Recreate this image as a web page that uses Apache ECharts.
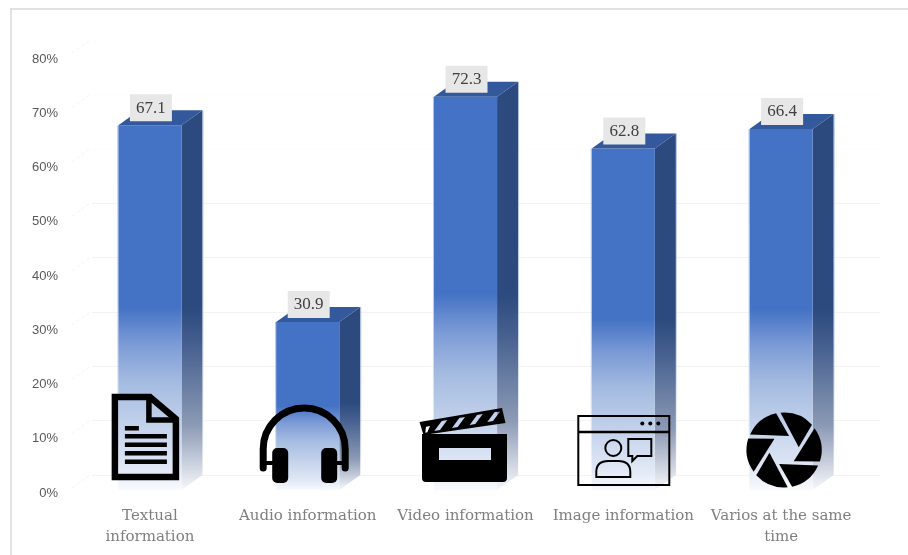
<!DOCTYPE html>
<html>
<head>
<meta charset="utf-8">
<style>html,body{margin:0;padding:0;background:#fff}#chart{width:908px;height:555px}</style>
<script src="https://cdn.jsdelivr.net/npm/echarts@6/dist/echarts.min.js"></script>
</head>
<body>
<div id="chart"></div>
<script>
const categories = ['Textual\ninformation', 'Audio information', 'Video information', 'Image information', 'Varios at the same\ntime'];
const shareValues = [67.1, 30.9, 72.3, 62.8, 66.4];
const yTicks = [0, 10, 20, 30, 40, 50, 60, 70, 80];

// Oblique projection of the columns and the back wall
const DEPTH_X = 21;
const DEPTH_Y = 15;

const grad = (stops) => new echarts.graphic.LinearGradient(0, 0, 0, 1, stops.map(([offset, color]) => ({ offset, color })));

const frontFill = () => grad([[0, '#4472c4'], [0.5, '#4472c4'], [0.6, '#7c9bd6'], [0.7, '#a3bae0'], [0.945, '#e2e9f6'], [1, '#f8fafd']]);
const sideFill = () => grad([[0, '#2c4a7e'], [0.52, '#2c4a7e'], [0.62, '#46608f'], [0.83, '#8c9ab5'], [1, '#f6f7fa']]);
const edgeFill = () => grad([[0, 'rgba(150,175,225,0.8)'], [0.6, 'rgba(150,175,225,0.55)'], [1, 'rgba(150,175,225,0)']]);

function renderColumn(params, api) {
  const top = api.coord([api.value(0), api.value(1)]);
  const base = api.coord([api.value(0), 0]);
  const w = api.size([1, 0])[0] * 0.4;
  const x = top[0] - w / 2;
  return {
    type: 'group',
    children: [
      { type: 'polygon', shape: { points: [[x + w, top[1]], [x + w + DEPTH_X, top[1] - DEPTH_Y], [x + w + DEPTH_X, base[1] - DEPTH_Y], [x + w, base[1]]] }, style: { fill: sideFill() } },
      { type: 'rect', shape: { x, y: top[1], width: w, height: base[1] - top[1] }, style: { fill: frontFill() } },
      { type: 'polygon', shape: { points: [[x, top[1]], [x + DEPTH_X, top[1] - DEPTH_Y], [x + w + DEPTH_X, top[1] - DEPTH_Y], [x + w, top[1]]] }, style: { fill: '#34589c' } },
      { type: 'rect', shape: { x: x - 1, y: top[1], width: 1, height: base[1] - top[1] }, style: { fill: edgeFill() } },
      { type: 'rect', shape: { x: x + w + DEPTH_X, y: top[1] - DEPTH_Y, width: 1, height: base[1] - top[1] }, style: { fill: edgeFill() } }
    ]
  };
}

function renderValueTag(params, api) {
  const top = api.coord([api.value(0), api.value(1)]);
  const cx = top[0] + 1;
  return {
    type: 'group',
    children: [
      { type: 'rect', shape: { x: cx - 21, y: top[1] - 31, width: 42, height: 27 }, style: { fill: '#e7e7e7' } },
      { type: 'text', x: cx, y: top[1] - 17, style: { text: String(api.value(1)), fill: '#404040', font: '17px "Liberation Serif"', align: 'center', verticalAlign: 'middle' } }
    ]
  };
}

// Helpers for icon parts; bounding boxes keep path data at its own scale
const ink = '#000';
const solid = (d, x, y, width, height) => ({ type: 'path', shape: { pathData: d, x, y, width, height, layout: 'cover' }, style: { fill: ink } });
const traced = (d, x, y, width, height, lineWidth) => ({ type: 'path', shape: { pathData: d, x, y, width, height, layout: 'cover' }, style: { fill: 'none', stroke: ink, lineWidth, lineCap: 'round', lineJoin: 'miter' } });
const block = (x, y, width, height, r) => ({ type: 'rect', shape: { x, y, width, height, r: r || 0 }, style: { fill: ink } });
const rule = (x1, y1, x2, y2, lineWidth) => ({ type: 'line', shape: { x1, y1, x2, y2 }, style: { stroke: ink, lineWidth } });

const iconDocument = {
  dx: -38, dy: -96,
  parts: () => [
    traced('M3,3 H38 L64,25 V83 H3 Z', 3, 3, 61, 80, 6.5),
    traced('M37,3 V26 H64', 37, 3, 27, 23, 5.5),
    block(13, 32, 14, 4.5),
    block(13, 40, 42, 4.5), block(13, 48.5, 42, 4.5), block(13, 57, 42, 4.5), block(13, 65.5, 42, 4.5)
  ]
};

const iconHeadphones = {
  dx: -48.5, dy: -86,
  parts: () => [
    traced('M4,64 V45 A41,41 0 0 1 86,45 V64', 4, 4, 82, 60, 7),
    rule(4, 59, 16, 59, 4), rule(74, 59, 86, 59, 4),
    block(13, 44, 16, 35, 5), block(62, 44, 16, 35, 5)
  ]
};

const iconClapper = {
  dx: -46.5, dy: -82,
  parts: () => [
    solid('M0.5,14 L83,0 L86.5,15 L4.5,27 Z M6.3,24.7 L8.3,24.3 L11,18 L7,18.7 Z M15.3,23 L21,22 L28.3,12 L22.7,13 Z M33,20 L38.7,19 L46,9 L40.3,10 Z M50.7,17 L56.3,16 L63.7,6 L58,7 Z M68.3,14 L74,13 L81,3.7 L75.7,4 Z', 0.5, 0, 86, 27),
    { type: 'group', x: 3, y: 26, children: [
      solid('M0,0 H85 V44 Q85,48 81,48 H4 Q0,48 0,44 Z M17,14 V26 H69 V14 Z', 0, 0, 85, 48)
    ] }
  ]
};

const iconScreen = {
  dx: -46, dy: -75,
  parts: () => [
    { type: 'rect', shape: { x: 1, y: 1, width: 91, height: 69 }, style: { fill: 'none', stroke: ink, lineWidth: 2 } },
    rule(1, 17, 92, 17, 2.5),
    { type: 'circle', shape: { cx: 65, cy: 8.5, r: 2 }, style: { fill: ink } },
    { type: 'circle', shape: { cx: 73, cy: 8.5, r: 2 }, style: { fill: ink } },
    { type: 'circle', shape: { cx: 81, cy: 8.5, r: 2 }, style: { fill: ink } },
    { type: 'circle', shape: { cx: 36, cy: 33, r: 8 }, style: { fill: 'none', stroke: ink, lineWidth: 2 } },
    traced('M19,62 H53 V57 Q53,46 41,46 H31 Q19,46 19,57 Z', 19, 46, 34, 16, 2),
    traced('M51,24 H74 V41 H60 L55,46 V41 H51 Z', 51, 24, 23, 22, 2)
  ]
};

const iconShutter = {
  dx: 3, dy: -40,
  parts: () => [0, 1, 2, 3, 4, 5].map((k) => ({
    type: 'group',
    rotation: -k * Math.PI / 3,
    children: [solid('M-8,-36.8 A37.7,37.7 0 0 0 -34,-15.5 L5,-14 Z', -34, -36.8, 39, 22.8)]
  }))
};

const icons = [iconDocument, iconHeadphones, iconClapper, iconScreen, iconShutter];

function renderIcon(params, api) {
  const base = api.coord([api.value(0), 0]);
  const icon = icons[api.value(0)];
  return { type: 'group', x: base[0] + icon.dx, y: base[1] + icon.dy, children: icon.parts() };
}

// Faint strokes running from the tick labels back to the wall
function renderWallEdge(params, api) {
  const y = api.coord([0, api.value(1)])[1];
  const x = params.coordSys.x;
  return {
    type: 'line',
    shape: { x1: x + 1, y1: y - 2, x2: x + DEPTH_X - 2, y2: y - DEPTH_Y },
    style: { stroke: '#f3f3f3', lineWidth: 1, lineDash: [3, 3] }
  };
}

const chart = echarts.init(document.getElementById('chart'), null, { renderer: 'canvas' });
const columnData = shareValues.map((v, i) => [i, v]);

const hiddenAxisParts = { axisLine: { show: false }, axisTick: { show: false }, axisLabel: { show: false }, splitLine: { show: false } };

chart.setOption({
  animation: false,
  backgroundColor: '#fff',
  graphic: [
    { type: 'line', shape: { x1: 11, y1: 9, x2: 908, y2: 9 }, style: { stroke: '#d9d9d9', lineWidth: 1.5 } },
    { type: 'line', shape: { x1: 11, y1: 8, x2: 11, y2: 555 }, style: { stroke: '#d9d9d9', lineWidth: 1.5 } }
  ],
  grid: [
    { left: 71, top: 55, width: 789, height: 435 },
    { left: 92, top: 40, width: 788, height: 435 },
    { left: 71, top: 59, width: 789, height: 434 }
  ],
  xAxis: [
    {
      type: 'category', gridIndex: 0, data: categories,
      axisLine: { show: false }, axisTick: { show: false }, splitLine: { show: false },
      axisLabel: { interval: 0, margin: 16, color: '#7f7f7f', fontFamily: 'DejaVu Serif', fontSize: 15, lineHeight: 21 }
    },
    { type: 'category', gridIndex: 1, data: categories, ...hiddenAxisParts },
    { type: 'category', gridIndex: 2, data: categories, ...hiddenAxisParts }
  ],
  yAxis: [
    { type: 'value', gridIndex: 0, min: 0, max: 80, interval: 10, ...hiddenAxisParts },
    {
      type: 'value', gridIndex: 1, min: 0, max: 80, interval: 10,
      axisLine: { show: false }, axisTick: { show: false }, axisLabel: { show: false },
      splitLine: {
        show: true,
        lineStyle: { color: ['#f3f3f3', '#f3f3f3', '#f3f3f3', '#f3f3f3', '#f3f3f3', '#f3f3f3', '#fdfdfd', '#fdfdfd', '#fefefe'], width: 1 }
      }
    },
    {
      type: 'value', gridIndex: 2, min: 0, max: 80, interval: 10,
      axisLine: { show: false }, axisTick: { show: false }, splitLine: { show: false },
      axisLabel: { margin: 13, color: '#595959', fontFamily: 'Liberation Sans', fontSize: 13, formatter: '{value}%' }
    }
  ],
  series: [
    { type: 'custom', xAxisIndex: 0, yAxisIndex: 0, z: 1, silent: true, clip: false, renderItem: renderWallEdge, data: yTicks.map((t) => [0, t]) },
    { type: 'custom', xAxisIndex: 0, yAxisIndex: 0, z: 2, clip: false, renderItem: renderColumn, encode: { x: 0, y: 1 }, data: columnData },
    { type: 'custom', xAxisIndex: 0, yAxisIndex: 0, z: 3, clip: false, renderItem: renderValueTag, encode: { x: 0, y: 1 }, data: columnData },
    { type: 'custom', xAxisIndex: 0, yAxisIndex: 0, z: 4, clip: false, renderItem: renderIcon, encode: { x: 0, y: 1 }, data: columnData }
  ]
});
</script>
</body>
</html>
